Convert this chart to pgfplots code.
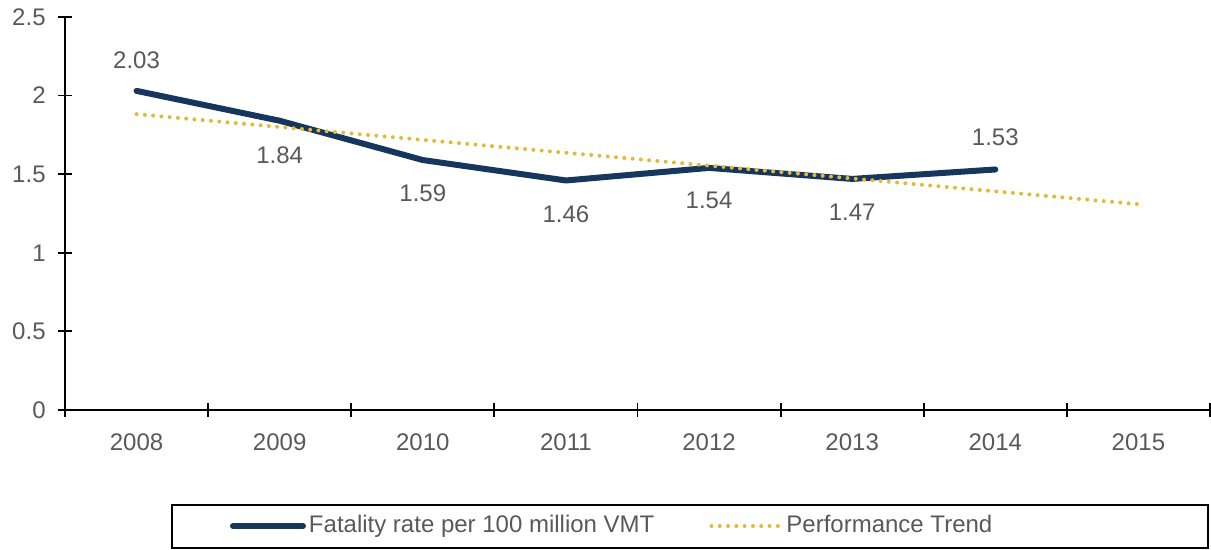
\documentclass[border=0pt]{standalone}
\usepackage{fontspec}
\setmainfont{Liberation Sans}
\usepackage{pgfplots}
\pgfplotsset{compat=1.18}
\definecolor{navyline}{HTML}{17365D}
\definecolor{trendy}{HTML}{E3BA35}
\definecolor{txtgray}{HTML}{595959}
\begin{document}
\fontsize{12pt}{14pt}\selectfont
\begin{tikzpicture}
\begin{axis}[
  name=ax,
  scale only axis,
  width=572.5pt, height=196.5pt,
  xmin=-0.5, xmax=7.5, ymin=0, ymax=2.5,
  axis x line=bottom, axis y line=left,
  axis line style={-, black, line width=0.9pt},
  xtick={0,...,7},
  xticklabels={2008,2009,2010,2011,2012,2013,2014,2015},
  minor xtick={-0.5,0.5,...,7.5},
  major x tick style={draw=none},
  minor x tick style={black, line width=0.9pt},
  ytick={0,0.5,...,2.5},
  yticklabels={0,0.5,1,1.5,2,2.5},
  y tick style={black, line width=0.9pt},
  tick align=center,
  major tick length=7pt, minor tick length=7pt,
  ticklabel style={font=\fontsize{12pt}{14pt}\selectfont, text=txtgray},
  xticklabel style={yshift=-4pt},
  yticklabel style={xshift=-2pt},
  clip=false,
  legend columns=2,
  legend style={draw=none, fill=none, at={(0.1441,-0.2952)}, anchor=west,
    inner sep=0pt, outer sep=0pt,
    font=\fontsize{12pt}{14pt}\selectfont, text=txtgray,
    nodes={inner sep=1.5pt},
    /tikz/every even column/.append style={column sep=26pt}},
  legend image code/.code={\draw[#1] (0pt,0pt) -- (35pt,0pt);},
]
\addplot[navyline, line width=3pt, line cap=round, line join=round,
  nodes near coords, point meta=explicit symbolic,
  visualization depends on={\thisrow{off} \as \off},
  every node near coord/.append style={anchor=center, yshift=\off pt,
    font=\fontsize{12pt}{14pt}\selectfont, text=txtgray}]
  table[x=x, y=y, meta=lab] {
x y lab off
0 2.03 2.03 15.5
1 1.84 1.84 -17
2 1.59 1.59 -16.5
3 1.46 1.46 -16.7
4 1.54 1.54 -16
5 1.47 1.47 -16.5
6 1.53 1.53 16.2
};
\addlegendentry{Fatality rate per 100 million VMT}
\addplot[trendy, line width=2pt, line cap=round, dash pattern=on 0pt off 4.15pt]
  coordinates {(0,1.882) (7,1.309)};
\addlegendentry{Performance Trend}
\end{axis}
\draw[black, line width=0.8pt] (53.5pt,-47.5pt) rectangle (571.5pt,-69pt);
\pgfresetboundingbox
\path (-32.5pt,-70pt) rectangle (573pt,205pt);
\end{tikzpicture}
\end{document}
